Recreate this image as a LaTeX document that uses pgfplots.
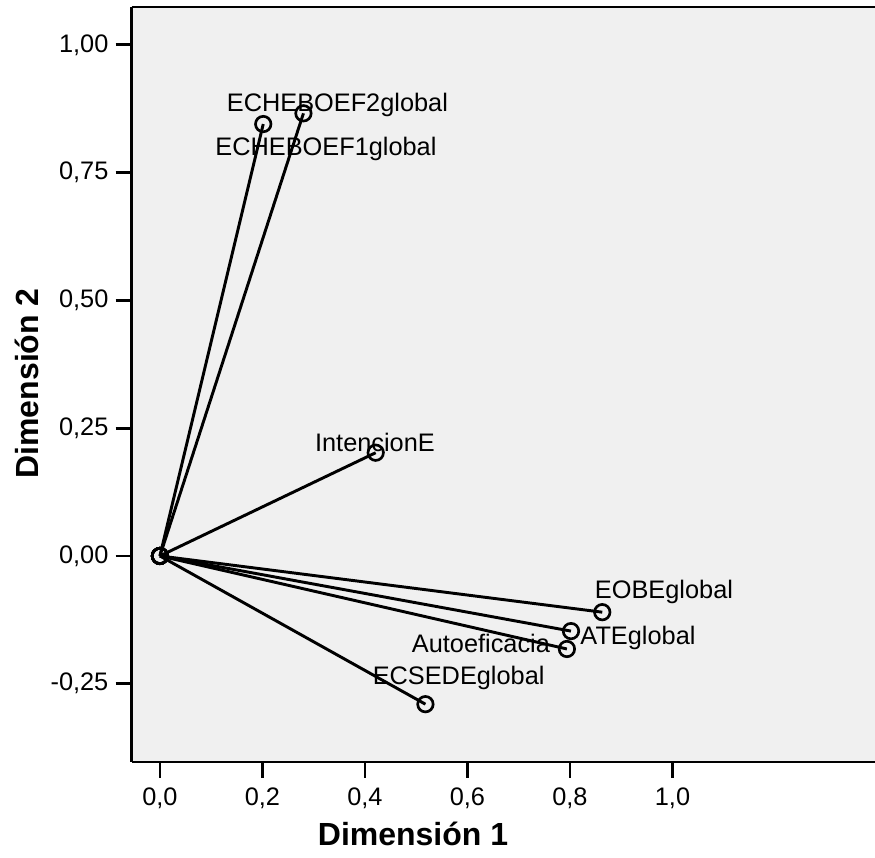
\documentclass[border=0pt]{standalone}
\usepackage{fontspec}
\setmainfont{Liberation Sans}
\usepackage{pgfplots}
\pgfplotsset{compat=1.18}

\definecolor{plotbg}{HTML}{F0F0F0}

\begin{document}
\begin{tikzpicture}
	% page size fixed to the reference (1px = 0.75pt)
	\path[use as bounding box] (-98.8pt,-72pt) rectangle (557.5pt,571.5pt);

	\begin{axis}[
			at={(0,0)}, anchor=south west,
			scale only axis, width=559pt, height=566.25pt,
			xmin=-0.055, xmax=1.399, ymin=-0.403, ymax=1.074,
			axis lines*=left,
			axis line style={line width=2pt, black},
			axis background/.style={fill=plotbg},
			xtick={0,0.2,0.4,0.6,0.8,1.0},
			ytick={-0.25,0,0.25,0.5,0.75,1},
			tick align=outside, major tick length=12pt,
			tick style={line width=2pt, black},
			xticklabel style={/pgf/number format/fixed, /pgf/number format/fixed zerofill,
					/pgf/number format/precision=1, /pgf/number format/use comma, yshift=-4pt},
			yticklabel style={/pgf/number format/fixed, /pgf/number format/fixed zerofill,
					/pgf/number format/precision=2, /pgf/number format/use comma, xshift=-2pt},
			/pgf/number format/assume math mode=true,
			ticklabel style={font=\fontsize{19}{22}\selectfont},
			clip=false,
		]
		\pgfplotsset{vec/.style={black, solid, line width=2.2pt, mark=o, mark size=5.8pt, mark options={solid, line width=2pt}}}
		\addplot[vec] coordinates {(0,0) (0.2016,0.845)};  % ECHEBOEF1global
		\addplot[vec] coordinates {(0,0) (0.280,0.866)};   % ECHEBOEF2global
		\addplot[vec] coordinates {(0,0) (0.421,0.202)};   % IntencionE
		\addplot[vec] coordinates {(0,0) (0.863,-0.110)};  % EOBEglobal
		\addplot[vec] coordinates {(0,0) (0.802,-0.147)};  % ATEglobal
		\addplot[vec] coordinates {(0,0) (0.794,-0.182)};  % Autoeficacia
		\addplot[vec] coordinates {(0,0) (0.518,-0.290)};  % ECSEDEglobal

		\draw[line width=2pt] (rel axis cs:0,1) -- (rel axis cs:1,1);

		\begin{scope}[every node/.style={font=\fontsize{19}{22}\selectfont, anchor=base, inner sep=0pt}]
			\node at (axis cs:0.3463,0.8689) {ECHEBOEF2global};
			\node at (axis cs:0.3239,0.7828) {ECHEBOEF1global};
			\node at (axis cs:0.4195,0.2035) {IntencionE};
			\node at (axis cs:0.9834,-0.0841) {EOBEglobal};
			\node at (axis cs:0.9327,-0.1742) {ATEglobal};
			\node at (axis cs:0.6263,-0.1898) {Autoeficacia};
			\node at (axis cs:0.5828,-0.2520) {ECSEDEglobal};
		\end{scope}
	\end{axis}

	\node[font=\fontsize{24}{28}\selectfont\bfseries] at (211pt,-54pt) {Dimensión 1};
	\node[font=\fontsize{24}{28}\selectfont\bfseries, rotate=90] at (-78.9pt,283.9pt) {Dimensión 2};
\end{tikzpicture}
\end{document}
